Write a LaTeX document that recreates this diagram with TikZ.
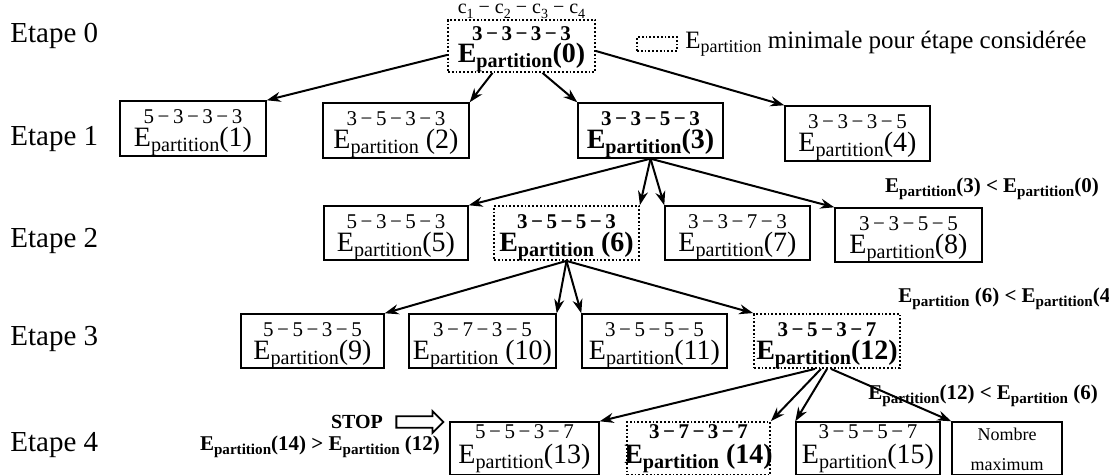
\documentclass[tikz,border=0pt]{standalone}
\usepackage{fontspec}
\setmainfont{Liberation Serif}
\usetikzlibrary{arrows.meta,shapes.arrows,calc,fit}
\newcommand{\Ep}{E\raisebox{-0.15em}{\scalebox{0.72}{partition}}}
\newcommand{\fsz}[1]{\fontsize{#1}{12}\selectfont}
\newcommand{\csub}[1]{c\raisebox{-0.22em}{\scalebox{0.7}{#1}}}
\newcommand{\mn}{\,−\,}
\newcommand{\mkbox}[6]{\node[#2, inner sep=0pt, fit={(#3,#4) (#5,#6)}] (#1) {};}
\begin{document}
\begin{tikzpicture}[x=0.5pt,y=-0.5pt,
  box/.style={draw, line width=0.7pt},
  minbox/.style={draw, densely dotted, line width=0.9pt},
  dig/.style={anchor=base, inner sep=0pt, font=\fsz{10.5}},
  ept/.style={anchor=base, inner sep=0pt, font=\fsz{14}},
  arr/.style={line width=1pt, -{Stealth[length=7pt,width=5pt]}},
  etape/.style={anchor=base west, inner sep=0pt, font=\fsz{14.5}},
  cmp/.style={inner sep=0pt, font=\fsz{10.5}\bfseries},
]
\useasboundingbox (0,0) rectangle (1109,475);

% step labels
\node[etape] (e0) at (10,43) {Etape 0};
\node[etape] (e1) at (10,146) {Etape 1};
\node[etape] (e2) at (10,248) {Etape 2};
\node[etape] (e3) at (10,346) {Etape 3};
\node[etape] (e4) at (10,452) {Etape 4};

% legend
\node[minbox, inner sep=0pt, fit={(637,37) (677,51)}] (leg) {};
\node[anchor=base west, inner sep=0pt, font=\fsz{12.5}] (legt) at (685,49) {\Ep\ minimale pour étape considérée};

% step 0
\node[anchor=base, inner sep=0pt, font=\fsz{10}] (clab) at (521.5,14) {\csub{1} − \csub{2} − \csub{3} − \csub{4}};
\mkbox{b0}{minbox}{448}{20}{595}{72}
\node[dig] (b0d) at (521.5,41) {\bfseries 3\mn3\mn3\mn3};
\node[ept] (b0e) at (521.5,63) {\bfseries\Ep(0)};

% step 1
\mkbox{b1}{box}{120}{101}{266}{156}
\node[dig] (b1d) at (193,124) {5\mn3\mn3\mn3};
\node[ept] (b1e) at (193,147) {\Ep(1)};
\mkbox{b2}{box}{323}{103}{469}{158}
\node[dig] (b2d) at (396,126) {3\mn5\mn3\mn3};
\node[ept] (b2e) at (396,149) {\Ep\ (2)};
\mkbox{b3}{box}{578}{103}{723}{158}
\node[dig] (b3d) at (650.5,126) {\bfseries 3\mn3\mn5\mn3};
\node[ept] (b3e) at (650.5,149) {\bfseries\Ep(3)};
\mkbox{b4}{box}{785}{106}{930}{161}
\node[dig] (b4d) at (857.5,129) {3\mn3\mn3\mn5};
\node[ept] (b4e) at (857.5,152) {\Ep(4)};

% step 2
\mkbox{b5}{box}{324}{206}{468}{260}
\node[dig] (b5d) at (396,229) {5\mn3\mn5\mn3};
\node[ept] (b5e) at (396,252) {\Ep(5)};
\mkbox{b6}{minbox}{494}{206}{639}{260}
\node[dig] (b6d) at (566.5,229) {\bfseries 3\mn5\mn5\mn3};
\node[ept] (b6e) at (566.5,252) {\bfseries\Ep\ (6)};
\mkbox{b7}{box}{665}{206}{810}{260}
\node[dig] (b7d) at (737.5,229) {3\mn3\mn7\mn3};
\node[ept] (b7e) at (737.5,252) {\Ep(7)};
\mkbox{b8}{box}{835}{208}{982}{262}
\node[dig] (b8d) at (908.5,231) {3\mn3\mn5\mn5};
\node[ept] (b8e) at (908.5,254) {\Ep(8)};

% step 3
\mkbox{b9}{box}{241}{314}{384}{368}
\node[dig] (b9d) at (312.5,337) {5\mn5\mn3\mn5};
\node[ept] (b9e) at (312.5,360) {\Ep(9)};
\mkbox{b10}{box}{409}{314}{556}{368}
\node[dig] (b10d) at (482.5,337) {3\mn7\mn3\mn5};
\node[ept] (b10e) at (482.5,360) {\Ep\ (10)};
\mkbox{b11}{box}{582}{314}{727}{368}
\node[dig] (b11d) at (654.5,337) {3\mn5\mn5\mn5};
\node[ept] (b11e) at (654.5,360) {\Ep(11)};
\mkbox{b12}{minbox}{754}{314}{900}{368}
\node[dig] (b12d) at (827,337) {\bfseries 3\mn5\mn3\mn7};
\node[ept] (b12e) at (827,360) {\bfseries\Ep(12)};

% step 4
\mkbox{b13}{box}{450}{422}{599}{475}
\node[dig] (b13d) at (524.5,439) {5\mn5\mn3\mn7};
\node[ept] (b13e) at (524.5,464) {\Ep(13)};
\mkbox{b14}{minbox}{627}{422}{770}{475}
\node[dig] (b14d) at (698.5,439) {\bfseries 3\mn7\mn3\mn7};
\node[ept] (b14e) at (698.5,464) {\bfseries\Ep\ (14)};
\mkbox{b15}{box}{796}{422}{940}{475}
\node[dig] (b15d) at (868,439) {3\mn5\mn5\mn7};
\node[ept] (b15e) at (868,464) {\Ep(15)};
\mkbox{bN}{box}{952}{422}{1062}{475}
\node[align=center, inner sep=0pt, font=\fontsize{9}{15}\selectfont] (bNt) at (1007,449) {Nombre\\maximum};

% connectors
\coordinate (s01) at ($(b0.west)+(0,9)$);
\coordinate (s02) at ($(b0.south)+(-29,0)$);
\coordinate (s03) at ($(b0.south)+(21,0)$);
\coordinate (s04) at ($(b0.east)+(0,5)$);
\draw[arr] (s01) -- (b1.north east);
\draw[arr] (s02) -- (b2.north east);
\draw[arr] (s03) -- (b3.north west);
\draw[arr] (s04) -- (b4.north west);

\draw[arr] (b3.south) -- (b5.north east);
\draw[arr] (b3.south) -- (b6.north east);
\draw[arr] (b3.south) -- (b7.north west);
\draw[arr] (b3.south) -- (b8.north west);

\draw[arr] (b6.south) -- (b9.north east);
\draw[arr] (b6.south) -- (b10.north east);
\draw[arr] (b6.south) -- (b11.north west);
\draw[arr] (b6.south) -- (b12.north west);

\coordinate (s13) at ($(b12.south)+(-12,0)$);
\coordinate (s14) at ($(b12.south)+(-6,0)$);
\coordinate (s15) at ($(b12.south)+(0,0)$);
\coordinate (sN) at ($(b12.south)+(4,0)$);
\draw[arr] (s13) -- (b13.north east);
\draw[arr] (s14) -- (b14.north east);
\draw[arr] (s15) -- (b15.north west);
\draw[arr] (sN) -- (bN.north west);

% comparison labels
\node[cmp, anchor=base] (c30) at (992,193) {\Ep(3) <~\Ep(0)};
\node[cmp, anchor=base west] (c64) at (898,303) {\Ep\ (6) < \Ep(4)};
\node[cmp, anchor=base west] (c126) at (868,400) {\Ep(12) < \Ep\ (6)};
\node[cmp, anchor=base] (c1412) at (320,451) {\Ep(14) > \Ep\ (12)};

% stop
\node[inner sep=0pt, font=\fsz{10}\bfseries] (stop) at (357,422) {STOP};
\node[single arrow, draw, line width=0.9pt, inner sep=2.4pt, minimum height=23.5pt, single arrow head extend=2.6pt] (stoparr) at (417,422) {};
\end{tikzpicture}
\end{document}
